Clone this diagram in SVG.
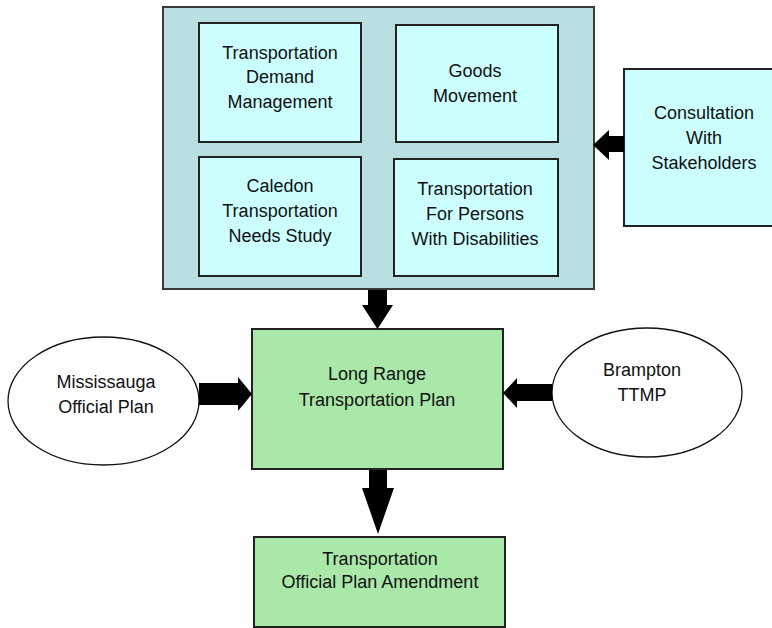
<svg xmlns="http://www.w3.org/2000/svg" width="772" height="628" viewBox="0 0 772 628">
<style>
.outer{fill:#B9DFE2;stroke:#3a3a3a;stroke-width:2}
.cyan{fill:#CCFFFF;stroke:#222;stroke-width:2}
.green{fill:#AAE8AA;stroke:#222;stroke-width:2}
.oval{fill:#FFFFFF;stroke:#111;stroke-width:1.3}
.arrow{fill:#000}
text{font-family:"Liberation Sans",Arial,sans-serif;font-size:18px;fill:#111;text-anchor:middle}
</style>
<rect width="772" height="628" fill="#FFFFFF"/>
<g id="group-box">
<rect class="outer" x="163" y="7" width="431" height="282"/>
</g>
<g id="tdm">
<rect class="cyan" x="199" y="23" width="162" height="119"/>
<text x="280" y="59">Transportation</text>
<text x="280" y="83">Demand</text>
<text x="280" y="108">Management</text>
</g>
<g id="goods">
<rect class="cyan" x="396" y="25" width="162" height="117"/>
<text x="475" y="77">Goods</text>
<text x="475" y="102">Movement</text>
</g>
<g id="caledon">
<rect class="cyan" x="199" y="157" width="162" height="119"/>
<text x="280" y="192">Caledon</text>
<text x="280" y="217">Transportation</text>
<text x="280" y="242">Needs Study</text>
</g>
<g id="disabilities">
<rect class="cyan" x="394" y="159" width="164" height="117"/>
<text x="475" y="195">Transportation</text>
<text x="475" y="220">For Persons</text>
<text x="475" y="245">With Disabilities</text>
</g>
<g id="consultation">
<rect class="cyan" x="624" y="69" width="162" height="157"/>
<text x="704" y="119">Consultation</text>
<text x="704" y="144">With</text>
<text x="704" y="169">Stakeholders</text>
</g>
<g id="lrtp">
<rect class="green" x="252" y="329" width="251" height="140"/>
<text x="377" y="380">Long Range</text>
<text x="377" y="406">Transportation Plan</text>
</g>
<g id="mississauga">
<ellipse class="oval" cx="103.5" cy="401" rx="95.5" ry="64"/>
<text x="106" y="388">Mississauga</text>
<text x="106" y="413">Official Plan</text>
</g>
<g id="brampton">
<ellipse class="oval" cx="647" cy="392.5" rx="95" ry="64.5"/>
<text x="642" y="376">Brampton</text>
<text x="642" y="401">TTMP</text>
</g>
<g id="topa">
<rect class="green" x="254" y="537" width="251" height="90"/>
<text x="380" y="565">Transportation</text>
<text x="380" y="588">Official Plan Amendment</text>
</g>
<g id="connectors">
<polygon class="arrow" points="624,136 609,136 609,130 593,145 609,160 609,152 624,152"/>
<polygon class="arrow" points="368,290 387,290 387,305 393,305 377.5,329 362,305 368,305"/>
<polygon class="arrow" points="199,383 238,383 238,377 252,394 238,411 238,405 199,405"/>
<polygon class="arrow" points="552,384 517,384 517,378 503,393 517,408 517,401 552,401"/>
<polygon class="arrow" points="369,470 387,470 387,488 394,488 378,534 362,488 369,488"/>
</g>
</svg>
